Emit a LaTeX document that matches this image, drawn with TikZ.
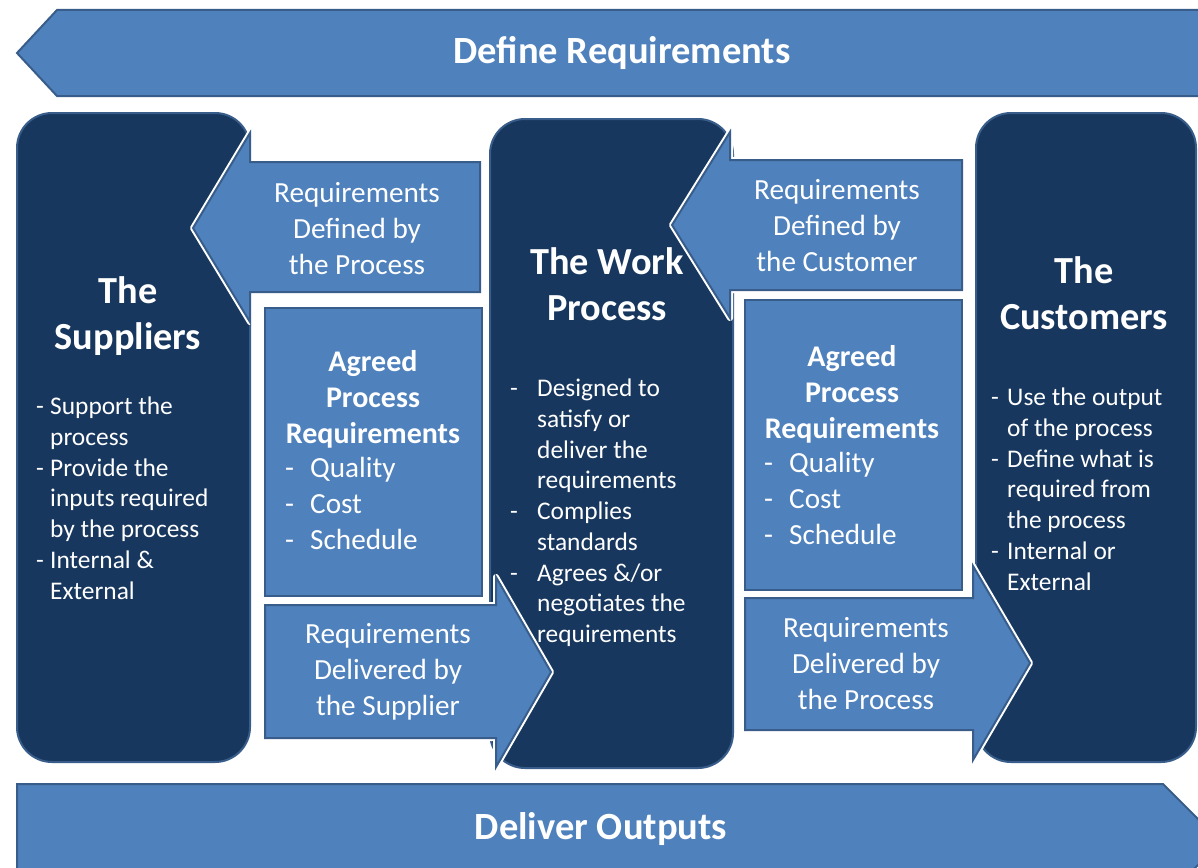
\documentclass[tikz,border=0pt]{standalone}
\usepackage{fontspec}
\setmainfont{Carlito}
\definecolor{navy}{HTML}{17375E}
\definecolor{midblue}{HTML}{4F81BD}
\definecolor{edgeblue}{HTML}{385D8A}
\tikzset{
  band/.style={fill=midblue, draw=edgeblue, line width=2pt},
  darkbox/.style={fill=navy, draw=edgeblue, line width=2pt, rounded corners=35pt},
  bluebox/.style={fill=midblue, draw=edgeblue, line width=2pt, preaction={draw=white, line width=6pt, line join=round}},
  bandtext/.style={text=white, inner sep=0pt, font=\fontsize{38.5}{46}\selectfont\bfseries},
  headtext/.style={text=white, inner sep=0pt, align=center, font=\fontsize{38.3}{46}\selectfont\bfseries},
  arrowtext/.style={text=white, inner sep=0pt, align=center, font=\fontsize{29.2}{36}\selectfont},
  agreedtext/.style={text=white, inner sep=0pt, align=center, font=\fontsize{30}{36}\selectfont\bfseries},
  qualtext/.style={text=white, inner sep=0pt, align=left, anchor=north west, font=\fontsize{29.2}{36}\selectfont},
  listtext/.style={text=white, inner sep=0pt, align=left, anchor=north west, font=\fontsize{25.4}{30.7}\selectfont},
}
\newcommand{\dsh}[1]{\makebox[#1][l]{-}}
\begin{document}
\begin{tikzpicture}[x=1pt,y=-1pt]
\useasboundingbox (0,0) rectangle (1198,867);
\clip (0,0) rectangle (1198,867);
\draw[band] (17,53) -- (57,10) -- (1210,10) -- (1210,96) -- (57,96) -- cycle;
\draw[band] (17,784) -- (1163,784) -- (1221,842) -- (1163,900) -- (17,900) -- cycle;
\node[bandtext] (define) at (622,53) {Define Requirements};
\node[bandtext] (deliver) at (601,829) {Deliver Outputs};
\draw[darkbox] (17,113) rectangle (250,762);
\draw[darkbox] (490,119) rectangle (733,768);
\draw[darkbox] (976,113) rectangle (1196,762);
\draw[bluebox] (480,162) -- (250,162) -- (250,133) -- (193,228) -- (250,322) -- (250,292) -- (480,292) -- cycle;
\draw[bluebox] (962,160) -- (730,160) -- (730,132) -- (672,225) -- (730,318) -- (730,290) -- (962,290) -- cycle;
\draw[bluebox] (265,605) -- (496,605) -- (496,577) -- (551,672) -- (496,767) -- (496,738) -- (265,738) -- cycle;
\draw[bluebox] (745,598) -- (973,598) -- (973,566) -- (1030,663) -- (973,760) -- (973,730) -- (745,730) -- cycle;
\draw[bluebox] (265,308) rectangle (482,596);
\draw[bluebox] (745,300) rectangle (962,590);
\node[headtext] (suppliers) at (128,316) {The\\Suppliers};
\node[headtext] (work) at (607,284) {The Work\\Process};
\node[headtext] (customers) at (1084,293) {The\\Customers};
\node[arrowtext] (defproc) at (357,229) {Requirements\\Defined by\\the Process};
\node[arrowtext] (defcust) at (837,226) {Requirements\\Defined by\\the Customer};
\node[arrowtext] (delsupp) at (388,672) {Requirements\\Delivered by\\the Supplier};
\node[arrowtext] (delproc) at (866,664) {Requirements\\Delivered by\\the Process};
\node[agreedtext] (agreedl) at (373,399) {Agreed\\Process\\Requirements};
\node[agreedtext] (agreedr) at (852,394) {Agreed\\Process\\Requirements};
\node[qualtext] (qcsl) at (285,457) {\dsh{25pt}Quality\\\dsh{25pt}Cost\\\dsh{25pt}Schedule};
\node[qualtext] (qcsr) at (764,452) {\dsh{25pt}Quality\\\dsh{25pt}Cost\\\dsh{25pt}Schedule};
\node[listtext] (supplist) at (36,397) {\dsh{14pt}Support the\\\hspace*{14pt}process\\\dsh{14pt}Provide the\\\hspace*{14pt}inputs required\\\hspace*{14pt}by the process\\\dsh{14pt}Internal \&\\\hspace*{14pt}External};
\node[listtext] (worklist) at (510,379) {\dsh{27pt}Designed to\\\hspace*{27pt}satisfy or\\\hspace*{27pt}deliver the\\\hspace*{27pt}requirements\\\dsh{27pt}Complies\\\hspace*{27pt}standards\\\dsh{27pt}Agrees \&/or\\\hspace*{27pt}negotiates the\\\hspace*{27pt}requirements};
\node[listtext] (custlist) at (991,388) {\dsh{16pt}Use the output\\\hspace*{16pt}of the process\\\dsh{16pt}Define what is\\\hspace*{16pt}required from\\\hspace*{16pt}the process\\\dsh{16pt}Internal or\\\hspace*{16pt}External};
\end{tikzpicture}
\end{document}
